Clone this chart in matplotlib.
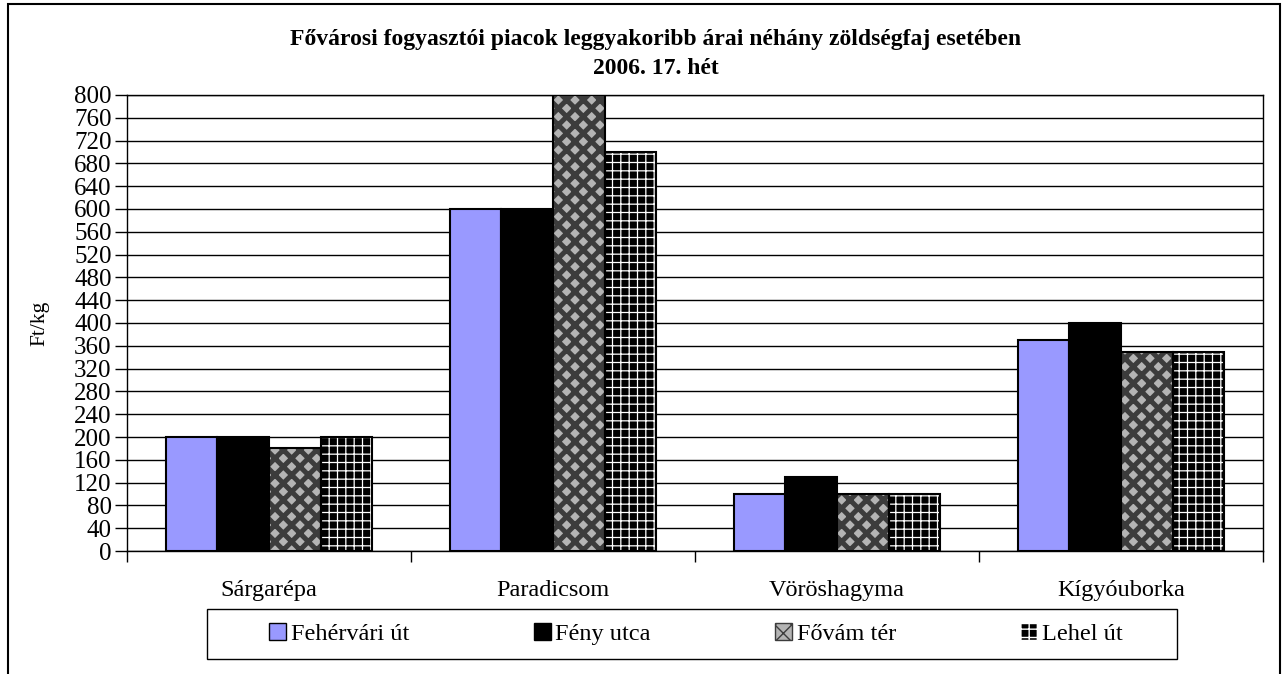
"""Budapest market vegetable prices, 2006 week 17 (grouped bar chart)."""

import matplotlib

matplotlib.use("Agg")
import matplotlib.pyplot as plt
import numpy as np
from matplotlib.patches import Patch, Rectangle

categories = ["Sárgarépa", "Paradicsom", "Vöröshagyma", "Kígyóuborka"]
series_names = ["Fehérvári út", "Fény utca", "Fővám tér", "Lehel út"]
fehervari = [200, 600, 100, 370]
feny = [200, 600, 130, 400]
fovam = [180, 800, 100, 350]
lehel = [200, 700, 100, 350]
y_ticks = list(range(0, 801, 40))

title = "Fővárosi fogyasztói piacok leggyakoribb árai néhány zöldségfaj esetében\n2006. 17. hét"

plt.rcParams["font.family"] = ["Liberation Serif", "DejaVu Serif"]

W, H = 1282, 674
fig = plt.figure(figsize=(W / 100, H / 100), dpi=100)
ax = fig.add_axes([127 / W, 1 - 551 / H, 1136 / W, 456 / H])

# (face, hatch, hatch colour, hatch width) per series
styles = [
    ("#9999ff", None, None, None),
    ("#000000", None, None, None),
    ("#b4b4b4", "xx", "#3c3c3c", 3.6),
    ("#000000", "++", "#ffffff", 0.9),
]

x = np.arange(len(categories))
bw = 0.182
values = [fehervari, feny, fovam, lehel]
for i, (vals, (face, hatch, hcol, hlw)) in enumerate(zip(values, styles)):
    pos = x + (i - 1.5) * bw
    if hatch:
        with plt.rc_context({"hatch.linewidth": hlw}):
            ax.bar(pos, vals, bw, color=face, hatch=hatch, edgecolor=hcol, linewidth=0, zorder=3)
        ax.bar(pos, vals, bw, facecolor="none", edgecolor="black", linewidth=1.5, zorder=4)
    else:
        ax.bar(pos, vals, bw, color=face, edgecolor="black", linewidth=1.5, zorder=3)

ax.set_xlim(-0.5, len(categories) - 0.5)
ax.set_ylim(0, 800)
ax.set_yticks(y_ticks)
ax.tick_params(axis="y", labelsize=18, length=9, width=1, direction="out", pad=2)
ax.set_xticks(x)
ax.set_xticklabels(categories)
ax.tick_params(axis="x", labelsize=17.5, length=0, pad=21)
ax.set_xticks(np.arange(len(categories) + 1) - 0.5, minor=True)
ax.tick_params(axis="x", which="minor", length=8, width=1, direction="out")
ax.grid(axis="y", color="black", linewidth=1, zorder=0)
for sp in ax.spines.values():
    sp.set_linewidth(1)
    sp.set_color("black")
ax.set_ylabel("Ft/kg", fontsize=15.5, labelpad=18)

fig.text(656 / W, 1 - 54 / H, title, ha="center", va="center",
         fontsize=17, fontweight="bold", linespacing=1.45)

handles = []
for name, (face, hatch, hcol, hlw) in zip(series_names, styles):
    with plt.rc_context({"hatch.linewidth": hlw or 1.0}):
        handles.append(Patch(facecolor=face, edgecolor=hcol if hatch else "black",
                             hatch=hatch, label=name))
# legend entries without frame; the box is drawn separately (Excel-style padding)
leg = fig.legend(handles=handles, loc="center", ncol=4,
                 bbox_to_anchor=(696 / W, 1 - 634 / H),
                 fontsize=17.5, frameon=False,
                 handlelength=0.7, handleheight=0.7, handletextpad=0.2,
                 columnspacing=5.1, borderpad=0.0)
fig.patches.append(Rectangle((207 / W, 1 - 659 / H), (1177 - 207) / W, 50 / H,
                             transform=fig.transFigure, fill=False,
                             edgecolor="black", linewidth=1))

# outer chart frame (bottom edge cut off in the original)
fig.patches.append(Rectangle((8 / W, -0.05), (1280 - 8) / W, 1.05 - 4 / H,
                             transform=fig.transFigure, fill=False,
                             edgecolor="black", linewidth=1.5))

fig.savefig("out.png", dpi=100)
